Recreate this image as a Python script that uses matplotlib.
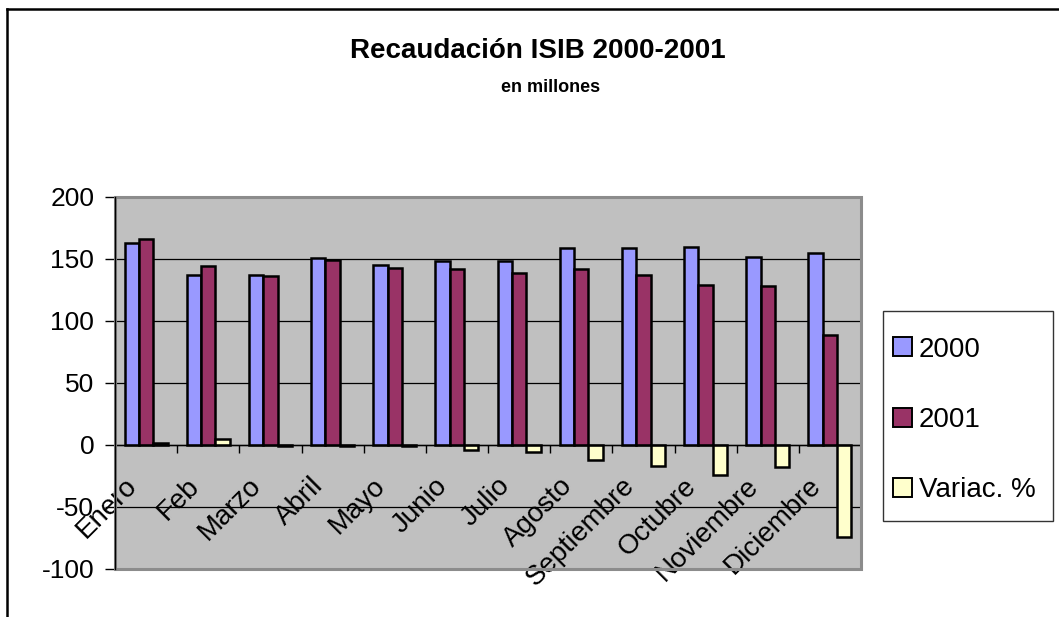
import numpy as np
import matplotlib
matplotlib.use("Agg")
import matplotlib.pyplot as plt
from matplotlib.patches import Rectangle, Patch
from matplotlib.lines import Line2D
from matplotlib.transforms import ScaledTranslation

# datos (millones)
meses = ['Enero', 'Feb', 'Marzo', 'Abril', 'Mayo', 'Junio', 'Julio',
         'Agosto', 'Septiembre', 'Octubre', 'Noviembre', 'Diciembre']
rec_2000 = [163, 137, 137, 151, 145, 148, 148, 159, 159, 160, 152, 155]
rec_2001 = [166, 144, 136, 149, 143, 142, 139, 142, 137, 129, 128, 89]
variac = [2, 5, -1, -1, -1, -4, -6, -12, -17, -24, -18, -74]

series = ['2000', '2001', 'Variac. %']
colores = ['#9999FF', '#993366', '#FFFFCC']

plt.rcParams['font.family'] = ['Liberation Sans', 'DejaVu Sans']


def plot_recaudacion():
    W, H = 1059, 617
    fig = plt.figure(figsize=(W / 100, H / 100), dpi=100)
    fig.patch.set_facecolor('white')

    # area del grafico
    ax = fig.add_axes([115 / W, 1 - 569 / H, (861 - 115) / W, (569 - 197) / H])
    ax.set_facecolor('#C0C0C0')

    x = np.arange(len(meses))
    w = 0.23
    for k, vals in enumerate([rec_2000, rec_2001, variac]):
        ax.bar(x + (k - 1) * w, vals, width=w, color=colores[k],
               edgecolor='black', linewidth=1.8, zorder=3)

    ax.set_xlim(-0.5, len(meses) - 0.5)
    ax.set_ylim(-100, 200)
    ax.set_yticks([-100, -50, 0, 50, 100, 150, 200])
    ax.set_yticklabels(['-100', '-50', '0', '50', '100', '150', '200'])
    ax.tick_params(axis='y', labelsize=19, length=7, width=1, pad=8,
                   direction='out', color='black')
    ax.yaxis.grid(True, color='black', linewidth=0.9, zorder=1)
    ax.set_axisbelow(True)

    # eje de categorias cruzando en cero
    ax.spines['bottom'].set_position(('data', 0))
    ax.spines['bottom'].set_color('black')
    ax.spines['bottom'].set_linewidth(1)
    ax.spines['bottom'].set_zorder(4)
    ax.spines['left'].set_color('black')
    ax.spines['left'].set_linewidth(1)
    for s in ['top', 'right']:
        ax.spines[s].set_visible(False)
    ax.set_xticks(np.arange(len(meses) + 1) - 0.5)
    ax.set_xticklabels([])
    ax.tick_params(axis='x', length=6, width=1, direction='out', color='black')

    # borde gris del area
    ax.add_patch(Rectangle((0, 0), 1, 1, transform=ax.transAxes, fill=False,
                           edgecolor='#8C8C8C', linewidth=2.2, zorder=5,
                           clip_on=False))
    ax.plot([0, 0], [0, 1], transform=ax.transAxes, color='black',
            linewidth=1, zorder=6, clip_on=False)

    # etiquetas de meses rotadas
    off = ScaledTranslation(-16 / 72, -20 / 72, fig.dpi_scale_trans)
    for i, m in enumerate(meses):
        ax.text(i, 0, m, rotation=45, rotation_mode='anchor', ha='right',
                va='top', fontsize=20, transform=ax.transData + off,
                zorder=2)

    # titulos
    fig.text(538 / W, 1 - 58 / H, 'Recaudación ISIB 2000-2001', ha='center',
             va='baseline', fontsize=20, fontweight='bold')
    fig.text(551 / W, 1 - 92 / H, 'en millones', ha='center', va='baseline',
             fontsize=13, fontweight='bold')

    # leyenda
    fig.patches.append(Rectangle((883 / W, 1 - 521 / H), (1053 - 883) / W,
                                 (521 - 311) / H, transform=fig.transFigure,
                                 fill=False, edgecolor='#333333', linewidth=1))
    handles = [Patch(facecolor=c, edgecolor='black', linewidth=1.4)
               for c in colores]
    fig.legend(handles, series, loc='center left',
               bbox_to_anchor=(893 / W, 1 - 420 / H), frameon=False,
               fontsize=20, borderpad=0, borderaxespad=0,
               handlelength=0.68, handleheight=0.68, handletextpad=0.25,
               labelspacing=1.6)

    # marco exterior
    fig.add_artist(Line2D([7 / W, 7 / W], [0, 1 - 9 / H], color='black',
                          linewidth=1.8, transform=fig.transFigure))
    fig.add_artist(Line2D([7 / W, 1], [1 - 9 / H, 1 - 9 / H], color='black',
                          linewidth=1.8, transform=fig.transFigure))

    fig.savefig('out.png', dpi=100)


def main():
    plot_recaudacion()


if __name__ == "__main__":
    main()
